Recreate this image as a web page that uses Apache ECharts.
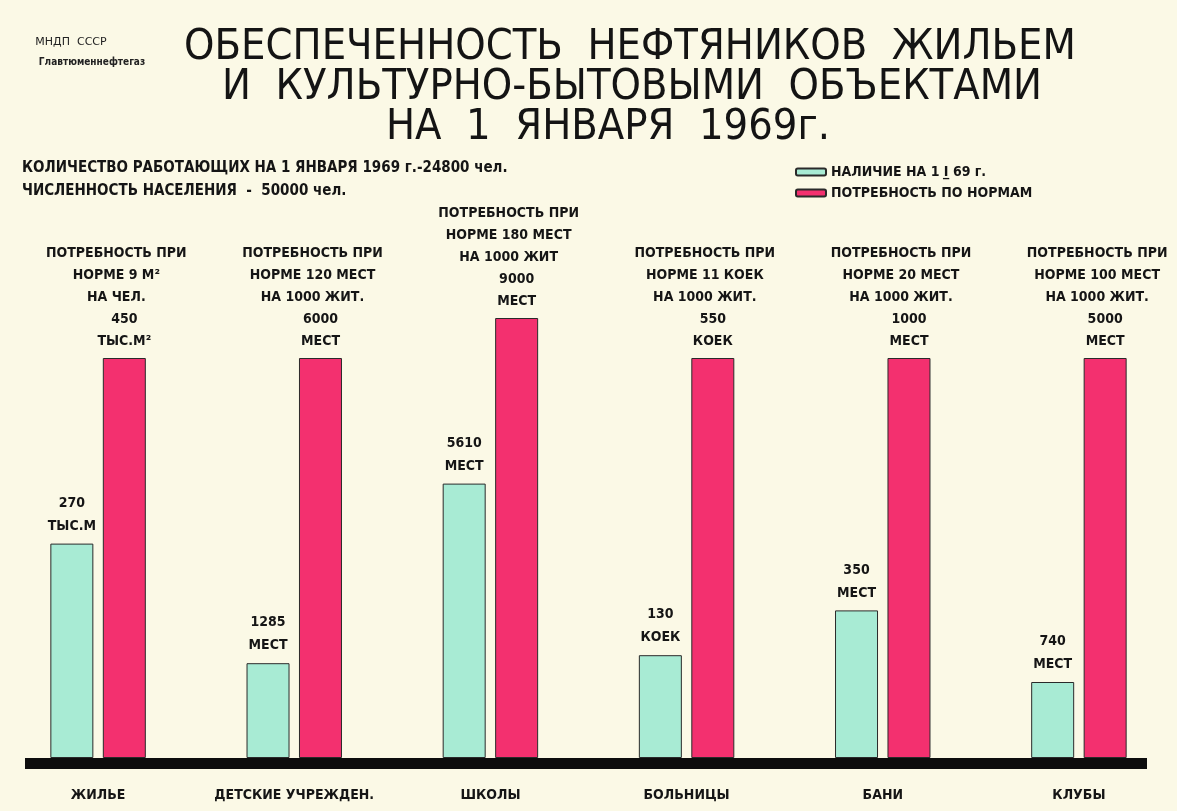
<!DOCTYPE html>
<html>
<head>
<meta charset="utf-8">
<script src="https://cdn.jsdelivr.net/npm/echarts@6/dist/echarts.min.js"></script>
<style>
html,body{margin:0;padding:0;background:#fbf9e6;}
#chart{width:1177px;height:811px;}
</style>
</head>
<body>
<div id="chart"></div>
<script>
// ---- data ----
const categories = ['ЖИЛЬЕ', 'ДЕТСКИЕ УЧРЕЖДЕН.', 'ШКОЛЫ', 'БОЛЬНИЦЫ', 'БАНИ', 'КЛУБЫ'];
const normNotes = [
  ['ПОТРЕБНОСТЬ ПРИ', 'НОРМЕ 9 М²', 'НА ЧЕЛ.'],
  ['ПОТРЕБНОСТЬ ПРИ', 'НОРМЕ 120 МЕСТ', 'НА 1000 ЖИТ.'],
  ['ПОТРЕБНОСТЬ ПРИ', 'НОРМЕ 180 МЕСТ', 'НА 1000 ЖИТ'],
  ['ПОТРЕБНОСТЬ ПРИ', 'НОРМЕ 11 КОЕК', 'НА 1000 ЖИТ.'],
  ['ПОТРЕБНОСТЬ ПРИ', 'НОРМЕ 20 МЕСТ', 'НА 1000 ЖИТ.'],
  ['ПОТРЕБНОСТЬ ПРИ', 'НОРМЕ 100 МЕСТ', 'НА 1000 ЖИТ.']
];
const availableValues = [270, 1285, 5610, 130, 350, 740];
const availableUnits = ['ТЫС.М', 'МЕСТ', 'МЕСТ', 'КОЕК', 'МЕСТ', 'МЕСТ'];
const requiredValues = [450, 6000, 9000, 550, 1000, 5000];
const requiredUnits = ['ТЫС.М²', 'МЕСТ', 'МЕСТ', 'КОЕК', 'МЕСТ', 'МЕСТ'];
// drawn bar heights (percent of the norm bar)
const availableHeight = [53.6, 23.7, 68.6, 25.7, 36.9, 19.0];
const requiredHeight = [100, 100, 110, 100, 100, 100];
const seriesNames = ['НАЛИЧИЕ НА 1 I̲ 69 г.', 'ПОТРЕБНОСТЬ ПО НОРМАМ'];
const titleLines = ['ОБЕСПЕЧЕННОСТЬ  НЕФТЯНИКОВ  ЖИЛЬЕМ', 'И  КУЛЬТУРНО-БЫТОВЫМИ  ОБЪЕКТАМИ', 'НА  1  ЯНВАРЯ  1969г.'];
const orgLines = ['МНДП  СССР', 'Главтюменнефтегаз'];
const infoLines = ['КОЛИЧЕСТВО РАБОТАЮЩИХ НА 1 ЯНВАРЯ 1969 г.-24800 чел.', 'ЧИСЛЕННОСТЬ НАСЕЛЕНИЯ  -  50000 чел.'];

// ---- chart ----
const FONT = 'DejaVu Sans Condensed';
const TEAL = '#a8ebd4';
const PINK = '#f3306f';
const chart = echarts.init(document.getElementById('chart'), null, {renderer: 'canvas'});

const option = {
  backgroundColor: '#fbf9e6',
  animation: false,
  textStyle: {fontFamily: FONT},
  grid: {left: 0, right: 0, top: 318, bottom: 53},
  legend: {
    orient: 'vertical', left: 790, top: 160, itemGap: 7,
    itemWidth: 30, itemHeight: 7, icon: 'roundRect',
    textStyle: {fontFamily: FONT, fontWeight: 'bold', fontSize: 14, color: '#151515'},
    data: seriesNames
  },
  xAxis: {
    type: 'category', data: categories,
    axisLine: {show: false}, axisTick: {show: false},
    axisLabel: {margin: 30, fontFamily: FONT, fontWeight: 'bold', fontSize: 14, color: '#151515', interval: 0}
  },
  yAxis: {type: 'value', min: 0, max: 110, show: false, splitLine: {show: false}},
  series: [
    {
      name: seriesNames[0], type: 'bar', barWidth: 43, barGap: '22%',
      itemStyle: {color: TEAL, borderColor: '#2a2a2a', borderWidth: 1},
      data: availableHeight,
      label: {
        show: true, position: 'top', distance: 6,
        fontFamily: FONT, fontWeight: 'bold', fontSize: 14, lineHeight: 23, color: '#151515',
        formatter: p => availableValues[p.dataIndex] + '\n' + availableUnits[p.dataIndex]
      }
    },
    {
      name: seriesNames[1], type: 'bar', barWidth: 43,
      itemStyle: {color: PINK, borderColor: '#2a2a2a', borderWidth: 1},
      data: requiredHeight,
      label: {
        show: true, position: 'top', distance: 6,
        fontFamily: FONT, fontWeight: 'bold', fontSize: 14, lineHeight: 22, color: '#151515',
        formatter: p => {
          const i = p.dataIndex;
          return normNotes[i].map(s => '{n|' + s + '}').join('\n') +
            '\n{v|' + requiredValues[i] + '}\n{v|' + requiredUnits[i] + '}';
        },
        rich: {
          n: {fontFamily: FONT, fontWeight: 'bold', fontSize: 14, lineHeight: 22, color: '#151515', padding: [0, 16, 0, 0]},
          v: {fontFamily: FONT, fontWeight: 'bold', fontSize: 14, lineHeight: 22, color: '#151515'}
        }
      }
    }
  ],
  graphic: [
    {type: 'rect', shape: {x: 25, y: 758, width: 1122, height: 11}, style: {fill: '#0d0d0d'}, z: 10},
    {type: 'text', style: {x: 630, y: 48, text: titleLines[0], textAlign: 'center', textVerticalAlign: 'middle', font: '43px "DejaVu Sans Condensed"', fill: '#141414'}},
    {type: 'text', style: {x: 632, y: 88, text: titleLines[1], textAlign: 'center', textVerticalAlign: 'middle', font: '43px "DejaVu Sans Condensed"', fill: '#141414'}},
    {type: 'text', style: {x: 608, y: 128, text: titleLines[2], textAlign: 'center', textVerticalAlign: 'middle', font: '43px "DejaVu Sans Condensed"', fill: '#141414'}},
    {type: 'text', style: {x: 71, y: 42, text: orgLines[0], textAlign: 'center', textVerticalAlign: 'middle', font: '11px "DejaVu Sans"', fill: '#222'}},
    {type: 'text', style: {x: 92, y: 62, text: orgLines[1], textAlign: 'center', textVerticalAlign: 'middle', font: 'bold 10px "DejaVu Sans Condensed"', fill: '#222'}},
    {type: 'text', style: {x: 22, y: 168, text: infoLines[0], textAlign: 'left', textVerticalAlign: 'middle', font: 'bold 15px "DejaVu Sans Condensed"', fill: '#151515'}},
    {type: 'text', style: {x: 22, y: 191, text: infoLines[1], textAlign: 'left', textVerticalAlign: 'middle', font: 'bold 15px "DejaVu Sans Condensed"', fill: '#151515'}}
  ]
};
chart.setOption(option);
</script>
</body>
</html>
